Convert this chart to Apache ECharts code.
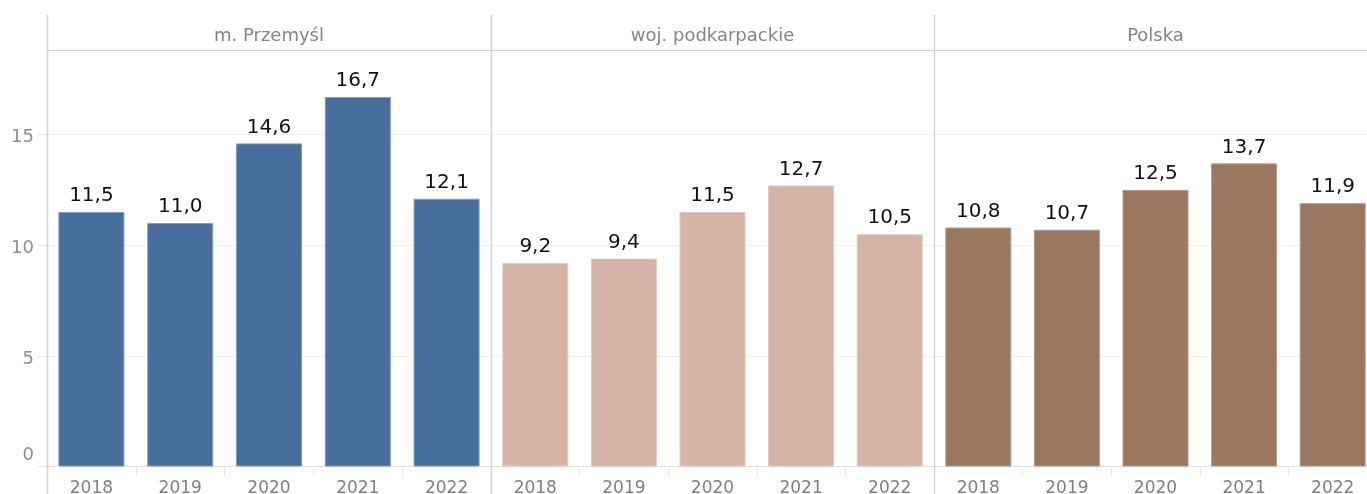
<!DOCTYPE html>
<html>
<head>
<meta charset="utf-8">
<script src="https://cdn.jsdelivr.net/npm/echarts@6/dist/echarts.min.js"></script>
<style>html,body{margin:0;padding:0;background:#fff}#c{width:1367px;height:494px}</style>
</head>
<body>
<div id="c"></div>
<script>
var years = ['2018', '2019', '2020', '2021', '2022'];
var panels = ['m. Przemyśl', 'woj. podkarpackie', 'Polska'];
var przemysl = [11.5, 11.0, 14.6, 16.7, 12.1];
var podkarpackie = [9.2, 9.4, 11.5, 12.7, 10.5];
var polska = [10.8, 10.7, 12.5, 13.7, 11.9];
var yTicks = [0, 5, 10, 15];

var seriesData = [przemysl, podkarpackie, polska];
var colors = ['#476e9c', '#d5b4a6', '#9c7760'];
var borders = ['#7d9cc0', '#e3cbc0', '#b89a86'];
var FONT = 'DejaVu Sans';

var grids = [
  {left: 47, width: 444, top: 50.5, height: 416, containLabel: false, outerBoundsMode: 'none'},
  {left: 491, width: 443, top: 50.5, height: 416, containLabel: false, outerBoundsMode: 'none'},
  {left: 934, width: 443, top: 50.5, height: 416, containLabel: false, outerBoundsMode: 'none'}
];

var xAxes = [], yAxes = [], series = [];
for (var i = 0; i < 3; i++) {
  xAxes.push({
    type: 'category', gridIndex: i, data: years, position: 'bottom',
    axisLine: {show: true, lineStyle: {color: '#dddddd', width: 1}},
    axisTick: {show: true, length: 10, lineStyle: {color: '#e6e6e6'}},
    axisLabel: {color: '#808080', fontSize: 17, fontFamily: FONT, margin: 14}
  });
  xAxes.push({
    type: 'category', gridIndex: i, data: [panels[i]], position: 'top',
    axisLine: {show: true, lineStyle: {color: '#d3d3d3', width: 1}},
    axisTick: {show: false},
    axisLabel: {color: '#858585', fontSize: 18, fontFamily: FONT, margin: 5}
  });
  yAxes.push({
    type: 'value', gridIndex: i, min: 0, max: 18.8, interval: 5,
    axisLine: {show: false},
    axisTick: {show: i === 0, length: 9, lineStyle: {color: '#e6e6e6'}},
    splitLine: {show: true, lineStyle: {color: '#f0f0f0', width: 1}},
    axisLabel: {
      show: i === 0, showMaxLabel: false, margin: 13,
      color: '#8f8f8f', fontSize: 18, fontFamily: FONT,
      formatter: function (v) {
        if (yTicks.indexOf(v) < 0) return '';
        return v === 0 ? '{z|0}' : '{n|' + v + '}';
      },
      rich: {
        n: {color: '#8f8f8f', fontSize: 18, fontFamily: FONT, padding: [6, 0, 0, 0]},
        z: {color: '#8f8f8f', fontSize: 18, fontFamily: FONT, padding: [0, 0, 22, 0]}
      }
    }
  });
  series.push({
    type: 'bar', xAxisIndex: i * 2, yAxisIndex: i, data: seriesData[i],
    barWidth: 66,
    itemStyle: {color: colors[i], borderColor: borders[i], borderWidth: 1},
    label: {
      show: true, position: 'top', distance: 6,
      color: '#111111', fontSize: 20, fontFamily: FONT,
      formatter: function (p) { return p.value.toFixed(1).replace('.', ','); }
    },
    silent: true, animation: false
  });
}

var vlines = [47.5, 491.5, 934.5].map(function (x) {
  return {type: 'line', shape: {x1: x, y1: 15, x2: x, y2: 494},
          style: {stroke: '#d3d3d3', lineWidth: 1.5}, z: 10};
});

var chart = echarts.init(document.getElementById('c'), null, {renderer: 'canvas'});
chart.setOption({
  animation: false,
  backgroundColor: '#ffffff',
  grid: grids,
  xAxis: xAxes,
  yAxis: yAxes,
  series: series,
  graphic: vlines
});
</script>
</body>
</html>
